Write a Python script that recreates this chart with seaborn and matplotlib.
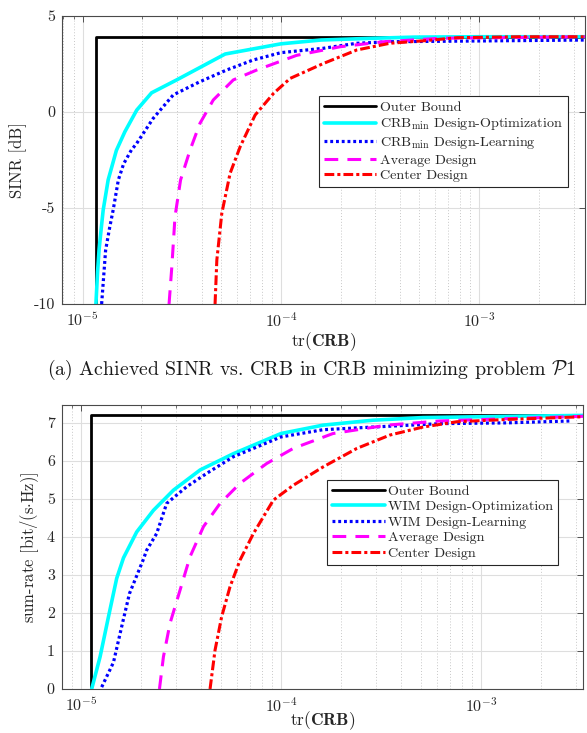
import numpy as np
import pandas as pd
import matplotlib
matplotlib.use("Agg")
import matplotlib.pyplot as plt
import seaborn as sns

# ---------------- (a) SINR vs. tr(CRB) ----------------
sinr_outer_x = [1.167e-5, 1.167e-5, 3.6e-3]
sinr_outer_y = [-10.0, 3.92, 3.92]

sinr_opt_x = [1.167e-5, 1.19e-5, 1.21e-5, 1.243e-5, 1.27e-5, 1.345e-5, 1.48e-5,
              1.633e-5, 1.875e-5, 2.228e-5, 2.979e-5, 5.236e-5, 1.0e-4, 1.6e-4,
              2.9e-4, 4.7e-4, 1.0e-3, 3.6e-3]
sinr_opt_y = [-10.0, -8.3, -7.2, -6.0, -5.1, -3.54, -2.0, -1.03, 0.1, 1.0, 1.67,
              3.02, 3.55, 3.75, 3.84, 3.90, 3.92, 3.92]

sinr_learn_x = [1.247e-5, 1.306e-5, 1.37e-5, 1.426e-5, 1.514e-5, 1.61e-5, 1.762e-5,
                1.875e-5, 2.27e-5, 2.864e-5, 3.908e-5, 5.333e-5, 7.261e-5, 1.0e-4,
                1.641e-4, 2.415e-4, 3.548e-4, 1.0e-3, 3.6e-3]
sinr_learn_y = [-10.0, -7.2, -6.0, -5.1, -3.54, -2.7, -1.98, -1.63, -0.33, 0.89,
                1.58, 2.19, 2.71, 3.09, 3.32, 3.58, 3.66, 3.70, 3.75]

sinr_avg_x = [2.729e-5, 2.818e-5, 2.924e-5, 3.119e-5, 3.483e-5, 3.908e-5, 4.56e-5,
              5.754e-5, 7.568e-5, 1.2e-4, 1.995e-4, 3.311e-4, 6.368e-4, 3.6e-3]
sinr_avg_y = [-10.0, -8.06, -5.45, -3.54, -1.98, -0.59, 0.625, 1.67, 2.19, 2.95, 3.40,
              3.66, 3.84, 3.92]

sinr_ctr_x = [4.656e-5, 4.753e-5, 5.035e-5, 5.546e-5, 6.237e-5, 7.413e-5, 9.183e-5,
              1.114e-4, 1.641e-4, 2.415e-4, 3.548e-4, 5.248e-4, 7.762e-4, 1.585e-3,
              3.6e-3]
sinr_ctr_y = [-10.0, -7.71, -5.28, -3.19, -1.8, -0.16, 0.97, 1.75, 2.53, 3.23, 3.58,
              3.71, 3.87, 3.92, 3.92]

# ---------------- (b) sum-rate vs. tr(CRB) ----------------
rate_outer_x = [1.117e-5, 1.117e-5, 3.6e-3]
rate_outer_y = [0.0, 7.20, 7.20]

rate_opt_x = [1.13e-5, 1.245e-5, 1.371e-5, 1.507e-5, 1.63e-5, 1.897e-5, 2.301e-5,
              2.897e-5, 3.936e-5, 5.781e-5, 1.0e-4, 1.622e-4, 2.884e-4, 5.129e-4,
              1.349e-3, 3.6e-3]
rate_opt_y = [0.0, 0.85, 1.90, 2.91, 3.45, 4.13, 4.70, 5.23, 5.76, 6.19, 6.72, 6.94,
              7.07, 7.14, 7.17, 7.20]

rate_learn_x = [1.268e-5, 1.452e-5, 1.596e-5, 1.746e-5, 2.042e-5, 2.128e-5, 2.388e-5,
                2.679e-5, 3.373e-5, 4.246e-5, 5.781e-5, 1.0e-4, 1.622e-4, 2.884e-4,
                6.237e-4, 1.349e-3, 2.786e-3]
rate_learn_y = [0.05, 0.70, 1.64, 2.51, 3.39, 3.65, 4.09, 4.88, 5.32, 5.67, 6.11,
                6.63, 6.82, 6.89, 6.98, 7.00, 7.05]

rate_avg_x = [2.466e-5, 2.582e-5, 2.786e-5, 3.126e-5, 3.508e-5, 4.093e-5, 4.955e-5,
              6.237e-5, 8.472e-5, 1.153e-4, 1.82e-4, 3.388e-4, 6.237e-4, 1.349e-3,
              3.6e-3]
rate_avg_y = [0.0, 0.85, 1.73, 2.60, 3.48, 4.27, 4.88, 5.41, 5.93, 6.33, 6.72, 6.94,
              7.05, 7.11, 7.18]

rate_ctr_x = [4.416e-5, 4.677e-5, 5.047e-5, 5.559e-5, 6.237e-5, 7.278e-5, 9.162e-5,
              1.153e-4, 1.622e-4, 2.399e-4, 3.508e-4, 5.129e-4, 7.586e-4, 1.349e-3,
              3.6e-3]
rate_ctr_y = [0.0, 1.02, 1.90, 2.69, 3.39, 4.09, 4.97, 5.36, 5.84, 6.33, 6.68, 6.89,
              7.03, 7.09, 7.17]

sinr_yticks = [-10, -5, 0, 5]
rate_yticks = [0, 1, 2, 3, 4, 5, 6, 7]

labels_a = ["Outer Bound", r"CRB$_{\mathrm{min}}$ Design-Optimization",
            r"CRB$_{\mathrm{min}}$ Design-Learning", "Average Design", "Center Design"]
labels_b = ["Outer Bound", "WIM Design-Optimization", "WIM Design-Learning",
            "Average Design", "Center Design"]

caption_a = r"(a) Achieved SINR vs. CRB in CRB minimizing problem $\mathcal{P}1$"
xlabel = r"$\mathrm{tr}(\mathbf{CRB})$"

sns.set_theme(style="white")
plt.rcParams.update({
    "font.family": "serif",
    "font.serif": ["cmr10", "DejaVu Serif"],
    "mathtext.fontset": "cm",
    "axes.formatter.use_mathtext": True,
    "axes.unicode_minus": False,
})

styles = [
    dict(color="black", linewidth=2.0, linestyle="-"),
    dict(color="#00ffff", linewidth=2.6, linestyle="-"),
    dict(color="#0000ff", linewidth=2.3, linestyle=(0, (0.9, 0.9))),
    dict(color="#ff00ff", linewidth=2.2, linestyle=(0, (4.5, 3.0))),
    dict(color="#ff0000", linewidth=2.2, linestyle=(0, (3.2, 1.0, 1.0, 1.0))),
]

fig = plt.figure(figsize=(5.87, 7.33), dpi=100)
ax_a = fig.add_axes([62 / 587, 1 - 304 / 733, 523 / 587, 288 / 733])
ax_b = fig.add_axes([61.7 / 587, 1 - 689 / 733, 521.6 / 587, 284 / 733])


def draw_panel(ax, series, labels, ylim, yticks, xlim, legend_anchor, ylabel,
               ylab_x, xlab_pad):
    handles = []
    for (xs, ys), lab, st in zip(series, labels, styles):
        df = pd.DataFrame({"x": xs, "y": ys})
        sns.lineplot(data=df, x="x", y="y", ax=ax, sort=False, estimator=None,
                     label=lab, legend=False, **st)
        handles.append(ax.lines[-1])
    ax.set_xscale("log")
    ax.set_xlim(*xlim)
    ax.set_ylim(*ylim)
    ax.set_yticks(yticks)
    ax.set_yticklabels([str(v) for v in yticks])
    ax.set_xticks([1e-5, 1e-4, 1e-3])
    ax.set_xticklabels([r"$10^{-5}$", r"$10^{-4}$", r"$10^{-3}$"])
    ax.grid(True, which="major", axis="both", color="#dedede", linewidth=0.8,
            linestyle="-")
    ax.grid(True, which="minor", axis="x", color="#c8c8c8", linewidth=0.7,
            linestyle=(0, (1, 2)))
    ax.set_axisbelow(True)
    ax.tick_params(which="both", direction="in", top=True, right=True,
                   colors="#3a3a3a", labelcolor="#262626", labelsize=11.5, pad=5)
    ax.tick_params(which="major", length=4, width=0.6)
    ax.tick_params(which="minor", length=2.5, width=0.5)
    for sp in ax.spines.values():
        sp.set_color("#4a4a4a")
        sp.set_linewidth(0.8)
    ax.set_xlabel(xlabel, fontsize=12.5, color="#262626", labelpad=xlab_pad)
    ax.set_ylabel(ylabel, fontsize=12, color="#262626")
    ax.yaxis.set_label_coords(ylab_x, 0.5)
    leg = ax.legend(handles=handles, labels=labels, loc="upper left",
                    bbox_to_anchor=legend_anchor, borderaxespad=0,
                    fontsize=10.2, handlelength=3.7, handletextpad=0.25,
                    labelspacing=0.18, borderpad=0.35, frameon=True, fancybox=False,
                    framealpha=1)
    leg.get_frame().set_edgecolor("#262626")
    leg.get_frame().set_linewidth(0.8)
    for t in leg.get_texts():
        t.set_color("#262626")


draw_panel(ax_a,
           [(sinr_outer_x, sinr_outer_y), (sinr_opt_x, sinr_opt_y),
            (sinr_learn_x, sinr_learn_y), (sinr_avg_x, sinr_avg_y),
            (sinr_ctr_x, sinr_ctr_y)],
           labels_a, (-10, 5), sinr_yticks, (7.87e-6, 3.42e-3), (0.491, 0.722),
           "SINR [dB]", -0.067, 1)

draw_panel(ax_b,
           [(rate_outer_x, rate_outer_y), (rate_opt_x, rate_opt_y),
            (rate_learn_x, rate_learn_y), (rate_avg_x, rate_avg_y),
            (rate_ctr_x, rate_ctr_y)],
           labels_b, (0, 7.47), rate_yticks, (8.0e-6, 3.25e-3), (0.509, 0.736),
           r"sum-rate [bit/(s$\cdot$Hz)]", -0.040, -3.5)

fig.text(311 / 587, 1 - 370 / 733, caption_a, ha="center", va="center",
         fontsize=14.3, color="#1a1a1a")

fig.savefig("out.png", dpi=100)
